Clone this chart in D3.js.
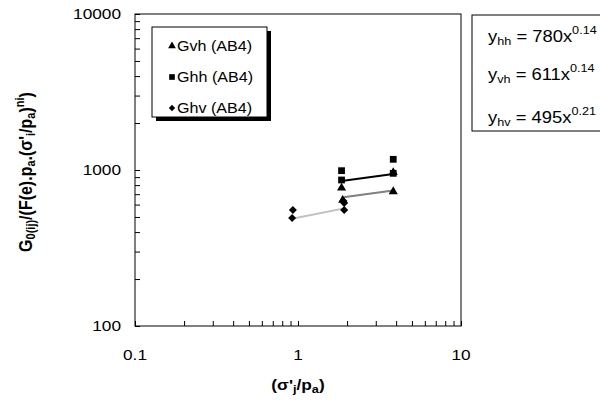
<!DOCTYPE html>
<html>
<head>
<meta charset="utf-8">
<script src="https://cdn.jsdelivr.net/npm/d3@7"></script>
<style>
  body { margin: 0; background: #fff; }
  svg { font-family: "Liberation Sans", Arial, sans-serif; }
</style>
</head>
<body>
<svg id="chart"></svg>
<script>
// data
const gvh = [[1.85, 767], [1.88, 640], [3.84, 727], [3.84, 965]];
const ghh = [[1.85, 990], [1.85, 863], [3.84, 1171], [3.84, 952]];
const ghv = [[0.93, 555], [0.92, 492], [1.9, 632], [1.92, 614], [1.92, 555]];

// power fits y = a x^b
const fits = [
    { name: "hh", a: 780, b: 0.14, x0: 1.85, x1: 3.84, color: "#000000" },
    { name: "vh", a: 611, b: 0.14, x0: 1.85, x1: 3.84, color: "#808080" },
    { name: "hv", a: 495, b: 0.21, x0: 0.92, x1: 1.92, color: "#c0c0c0" }
];

const legendLabels = ["Gvh (AB4)", "Ghh (AB4)", "Ghv (AB4)"];
const xTicks = [0.1, 1, 10];
const yTicks = [100, 1000, 10000];

const width = 600, height = 403;
const margin = { top: 14, left: 135, right: 139, bottom: 77 };
const stretch = 1.15; // text in the original is a bit wide

const svg = d3.select("#chart")
    .attr("width", width)
    .attr("height", height);

const x = d3.scaleLog().domain([0.1, 10]).range([margin.left, width - margin.right]);
const y = d3.scaleLog().domain([100, 10000]).range([height - margin.bottom, margin.top]);

// minor tick values
const xMinor = [], yMinor = [];
[0.1, 1].forEach(d => { for (let i = 1; i < 10; i++) xMinor.push(d * i); });
xMinor.push(10);
[100, 1000].forEach(d => { for (let i = 1; i < 10; i++) yMinor.push(d * i); });
yMinor.push(10000);

// text helper, wide glyphs
function wideText(parent, px, py, size, anchor) {
    return parent.append("g")
        .attr("transform", `translate(${px},${py}) scale(${stretch},1)`)
        .append("text")
        .attr("text-anchor", anchor || "start")
        .attr("font-size", size);
}

// frame
svg.append("rect")
    .attr("x", x(0.1)).attr("y", y(10000))
    .attr("width", x(10) - x(0.1)).attr("height", y(100) - y(10000))
    .attr("fill", "none").attr("stroke", "#000").attr("stroke-width", 1);

// axes (ticks only, labels drawn below)
const xAxis = d3.axisBottom(x).tickValues(xMinor).tickSize(-5).tickFormat("");
svg.append("g")
    .attr("transform", `translate(0,${y(100)})`)
    .call(xAxis)
    .call(g => g.select(".domain").remove());

const yAxis = d3.axisLeft(y).tickValues(yMinor).tickSize(-5).tickFormat("");
svg.append("g")
    .attr("transform", `translate(${x(0.1)},0)`)
    .call(yAxis)
    .call(g => g.select(".domain").remove());

xTicks.forEach(t => {
    wideText(svg, x(t), y(100) + 34, 15, "middle").text(d3.format("~g")(t));
});
yTicks.forEach(t => {
    wideText(svg, x(0.1) - 14, y(t) + 5, 15, "end").text(d3.format("d")(t));
});

// axis titles
const xTitle = wideText(svg, x(1), 390, 15, "middle").attr("font-weight", "bold");
xTitle.append("tspan").text("(σ'");
xTitle.append("tspan").attr("font-size", 11).attr("dy", 3).text("j");
xTitle.append("tspan").attr("dy", -3).text("/p");
xTitle.append("tspan").attr("font-size", 11).attr("dy", 3).text("a");
xTitle.append("tspan").attr("dy", -3).text(")");

const yTitle = svg.append("text")
    .attr("transform", `translate(32,172) scale(${stretch},1) rotate(-90)`)
    .attr("text-anchor", "middle")
    .attr("font-size", 16).attr("font-weight", "bold");
yTitle.append("tspan").text("G");
yTitle.append("tspan").attr("font-size", 11).attr("dy", 3).text("0(ij)");
yTitle.append("tspan").attr("dy", -3).text("/(F(e).p");
yTitle.append("tspan").attr("font-size", 11).attr("dy", 3).text("a");
yTitle.append("tspan").attr("dy", -3).text(".(σ'");
yTitle.append("tspan").attr("font-size", 11).attr("dy", 3).text("i");
yTitle.append("tspan").attr("dy", -3).text("/p");
yTitle.append("tspan").attr("font-size", 11).attr("dy", 3).text("a");
yTitle.append("tspan").attr("dy", -3).text(")");
yTitle.append("tspan").attr("font-size", 11).attr("dy", -7).text("ni");
yTitle.append("tspan").attr("dy", 7).text(")");

// fit lines
fits.forEach(f => {
    svg.append("line")
        .attr("x1", x(f.x0)).attr("y1", y(f.a * Math.pow(f.x0, f.b)))
        .attr("x2", x(f.x1)).attr("y2", y(f.a * Math.pow(f.x1, f.b)))
        .attr("stroke", f.color).attr("stroke-width", 2);
});

// markers (diamond = square turned 45deg)
const triangle = d3.symbol().type(d3.symbolTriangle).size(36);
const square = d3.symbol().type(d3.symbolSquare).size(46);
const diamond = d3.symbol().type(d3.symbolSquare).size(32);

function drawPoints(data, sym, rot) {
    svg.append("g").selectAll("path")
        .data(data)
        .enter()
        .append("path")
            .attr("d", sym)
            .attr("fill", "#000")
            .attr("transform", d => `translate(${x(d[0])},${y(d[1])}) rotate(${rot || 0})`);
}
drawPoints(ghv, diamond, 45);
drawPoints(gvh, triangle);
drawPoints(ghh, square);

// legend
const lg = svg.append("g");
lg.append("rect").attr("x", 156).attr("y", 31).attr("width", 115).attr("height", 90).attr("fill", "#000");
lg.append("rect").attr("x", 152).attr("y", 27).attr("width", 115).attr("height", 90)
    .attr("fill", "#fff").attr("stroke", "#000").attr("stroke-width", 1);
const legSyms = [d3.symbol().type(d3.symbolTriangle).size(26), d3.symbol().type(d3.symbolSquare).size(32), d3.symbol().type(d3.symbolSquare).size(20)];
const legRot = [0, 0, 45];
legendLabels.forEach((t, i) => {
    const cy = 46 + i * 31;
    lg.append("path").attr("d", legSyms[i])
        .attr("transform", `translate(172,${cy}) rotate(${legRot[i]})`).attr("fill", "#000");
    wideText(lg, 177, cy + 5, 14).text(t);
});

// equations box
const eq = svg.append("g");
eq.append("rect").attr("x", 472).attr("y", 15).attr("width", 140).attr("height", 116)
    .attr("fill", "#fff").attr("stroke", "#000").attr("stroke-width", 1);
fits.forEach((f, i) => {
    const ty = [42, 80, 123][i];
    const t = wideText(eq, 488, ty, 16);
    t.append("tspan").text("y");
    t.append("tspan").attr("font-size", 11).attr("dy", 3).text(f.name);
    t.append("tspan").attr("dy", -3).text(` = ${f.a}x`);
    t.append("tspan").attr("font-size", 11).attr("dy", -8).text(f.b.toFixed(2));
});
</script>
</body>
</html>
